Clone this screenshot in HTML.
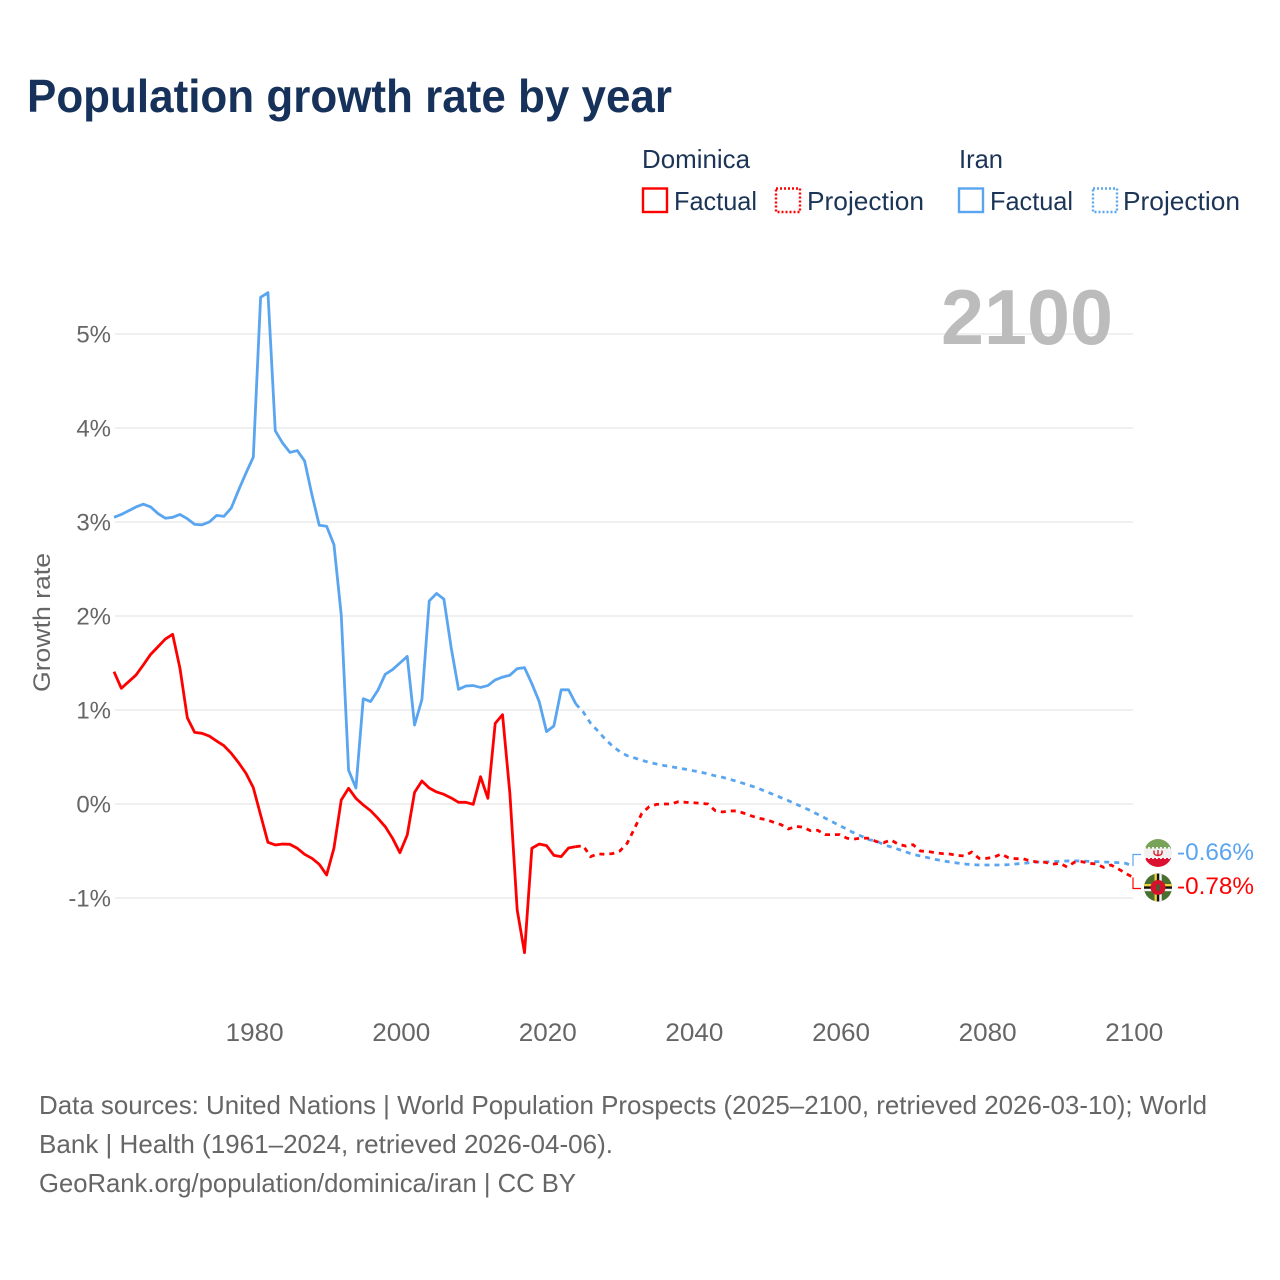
<!DOCTYPE html>
<html lang="en">
<head>
<meta charset="utf-8">
<title>Population growth rate by year</title>
<style>
html,body{margin:0;padding:0;background:#fff;}
svg{display:block;}
text{font-family:"Liberation Sans",sans-serif;}
</style>
</head>
<body>
<svg id="chart" xmlns="http://www.w3.org/2000/svg" width="1280" height="1280" viewBox="0 0 1280 1280">
  <rect x="0" y="0" width="1280" height="1280" fill="#fff"/>
  <text x="27" y="112" font-size="46" font-weight="700" fill="#17325a" textLength="645" lengthAdjust="spacingAndGlyphs">Population growth rate by year</text>

  <g font-size="26" fill="#1c3557">
    <text x="642" y="168" textLength="108" lengthAdjust="spacingAndGlyphs">Dominica</text>
    <text x="959" y="168" textLength="44" lengthAdjust="spacingAndGlyphs">Iran</text>
    <rect x="643" y="188.500" width="24" height="23.500" fill="none" stroke="#ff0000" stroke-width="2.400"/>
    <text x="674" y="210" textLength="83" lengthAdjust="spacingAndGlyphs">Factual</text>
    <rect x="776" y="188.500" width="24" height="23.500" fill="none" stroke="#ff0000" stroke-width="2.400" stroke-dasharray="2 2"/>
    <text x="807" y="210" textLength="117" lengthAdjust="spacingAndGlyphs">Projection</text>
    <rect x="959" y="188.500" width="24" height="23.500" fill="none" stroke="#5aa5ef" stroke-width="2.400"/>
    <text x="990" y="210" textLength="83" lengthAdjust="spacingAndGlyphs">Factual</text>
    <rect x="1093" y="188.500" width="24" height="23.500" fill="none" stroke="#5aa5ef" stroke-width="2.400" stroke-dasharray="2 2"/>
    <text x="1123" y="210" textLength="117" lengthAdjust="spacingAndGlyphs">Projection</text>
  </g>

  <text transform="translate(50,692) rotate(-90)" font-size="24" fill="#666" textLength="139" lengthAdjust="spacingAndGlyphs">Growth rate</text>
  <g id="grid"></g>
  <g id="ylabels"></g>
  <g id="xlabels"></g>

  <text x="941" y="344" font-size="78" font-weight="700" fill="#bcbcbc" textLength="172" lengthAdjust="spacingAndGlyphs">2100</text>

  <g id="series"></g>
  <g id="endmarks"></g>

  <defs>
    <clipPath id="clip-iran"><circle cx="1158" cy="853" r="14"/></clipPath>
    <clipPath id="clip-dominica"><circle cx="1158" cy="887.500" r="14"/></clipPath>
  </defs>
  <g clip-path="url(#clip-iran)">
    <rect x="1144" y="839" width="28" height="9.500" fill="#7aa35a"/>
    <rect x="1144" y="848.500" width="28" height="9.500" fill="#f1f1f1"/>
    <rect x="1144" y="858" width="28" height="9" fill="#dc1030"/>
    <line x1="1144" y1="848" x2="1172" y2="848" stroke="#f1f1f1" stroke-width="2" stroke-dasharray="2 2"/>
    <line x1="1144" y1="858" x2="1172" y2="858" stroke="#f1f1f1" stroke-width="2" stroke-dasharray="2 2"/>
    <path d="M1154 850.500v2.500q0 2 4 2.500q4-.5 4-2.500v-2.500M1158 850v6" fill="none" stroke="#d8202f" stroke-width="1.400"/>
  </g>
  <g clip-path="url(#clip-dominica)">
    <rect x="1144" y="873" width="28" height="29" fill="#4a7030"/>
    <rect x="1154.500" y="873" width="2.400" height="29" fill="#f2d13c"/>
    <rect x="1156.900" y="873" width="2.400" height="29" fill="#111"/>
    <rect x="1159.300" y="873" width="2.400" height="29" fill="#f4f4f4"/>
    <rect x="1144" y="884" width="28" height="2.400" fill="#f2d13c"/>
    <rect x="1144" y="886.400" width="28" height="2.400" fill="#111"/>
    <rect x="1144" y="888.800" width="28" height="2.400" fill="#f4f4f4"/>
    <circle cx="1158" cy="887.500" r="7.500" fill="#d4122c"/>
    <ellipse cx="1158" cy="887.500" rx="1.600" ry="3.500" fill="#2e6a30"/>
  </g>

  <g font-size="26" fill="#666">
    <text x="39" y="1114" textLength="1168" lengthAdjust="spacingAndGlyphs">Data sources: United Nations | World Population Prospects (2025–2100, retrieved 2026-03-10); World</text>
    <text x="39" y="1153" textLength="574" lengthAdjust="spacingAndGlyphs">Bank | Health (1961–2024, retrieved 2026-04-06).</text>
    <text x="39" y="1192" textLength="537" lengthAdjust="spacingAndGlyphs">GeoRank.org/population/dominica/iran | CC BY</text>
  </g>
</svg>
<script>
const firstYear = 1961;
const lastFactualYear = 2024;
const yTicks = [5, 4, 3, 2, 1, 0, -1];
const xTicks = [1980, 2000, 2020, 2040, 2060, 2080, 2100];
const iranValues = [
  3.05,3.08,3.12,3.16,3.19,3.16,3.09,3.04,3.05,3.08,
  3.035,2.975,2.97,3.0,3.07,3.06,3.15,3.34,3.52,3.69,
  5.39,5.44,3.97,3.84,3.74,3.76,3.65,3.29,2.965,2.955,
  2.76,2.01,0.36,0.17,1.12,1.09,1.21,1.38,1.43,1.5,
  1.57,0.84,1.11,2.16,2.24,2.18,1.66,1.22,1.255,1.26,
  1.24,1.26,1.32,1.35,1.37,1.44,1.45,1.28,1.09,0.77,
  0.83,1.215,1.215,1.064,0.98,0.86,0.777,0.69,0.617,0.557,
  0.514,0.49,0.465,0.443,0.425,0.41,0.397,0.383,0.37,0.354,
  0.34,0.32,0.3,0.284,0.263,0.24,0.216,0.19,0.163,0.13,
  0.1,0.067,0.035,0,-0.035,-0.07,-0.11,-0.15,-0.19,-0.23,
  -0.27,-0.31,-0.344,-0.38,-0.394,-0.433,-0.457,-0.482,-0.51,-0.535,
  -0.553,-0.571,-0.589,-0.603,-0.617,-0.628,-0.638,-0.645,-0.649,-0.649,
  -0.649,-0.649,-0.645,-0.638,-0.631,-0.624,-0.617,-0.617,-0.613,-0.61,
  -0.606,-0.606,-0.606,-0.61,-0.613,-0.617,-0.62,-0.624,-0.631,-0.66
];
const dominicaValues = [
  1.408,1.231,1.301,1.372,1.479,1.592,1.673,1.755,1.805,1.443,
  0.918,0.762,0.752,0.723,0.67,0.62,0.539,0.439,0.327,0.174,
  -0.117,-0.408,-0.436,-0.426,-0.429,-0.471,-0.535,-0.578,-0.642,-0.755,
  -0.471,0.043,0.167,0.06,-0.01,-0.071,-0.152,-0.241,-0.365,-0.518,
  -0.33,0.124,0.245,0.17,0.128,0.103,0.064,0.018,0.018,-0.004,
  0.29,0.06,0.858,0.95,0.113,-1.128,-1.582,-0.471,-0.426,-0.443,
  -0.546,-0.56,-0.468,-0.454,-0.443,-0.56,-0.531,-0.535,-0.528,-0.5,
  -0.418,-0.26,-0.1,-0.028,-0.004,0,0,0.025,0.018,0.014,
  0.007,0,-0.07,-0.085,-0.074,-0.074,-0.1,-0.128,-0.152,-0.167,
  -0.195,-0.22,-0.266,-0.238,-0.248,-0.284,-0.28,-0.326,-0.326,-0.326,
  -0.365,-0.372,-0.362,-0.365,-0.4,-0.411,-0.383,-0.429,-0.447,-0.433,
  -0.5,-0.504,-0.518,-0.528,-0.532,-0.546,-0.553,-0.511,-0.578,-0.578,
  -0.567,-0.532,-0.571,-0.582,-0.582,-0.606,-0.617,-0.62,-0.64,-0.63,
  -0.67,-0.62,-0.613,-0.631,-0.638,-0.674,-0.649,-0.691,-0.738,-0.78
];

const NS = 'http://www.w3.org/2000/svg';
const xScale = function (year) { return 114 + (year - 1961) * (1133 - 114) / 139; };
const yScale = function (v) { return 804 - v * 94; };

function make(tag, parent, attrs, content) {
  const el = document.createElementNS(NS, tag);
  Object.keys(attrs).forEach(function (k) { el.setAttribute(k, attrs[k]); });
  if (content !== undefined) el.textContent = content;
  parent.appendChild(el);
  return el;
}

const grid = document.getElementById('grid');
const ylabels = document.getElementById('ylabels');
yTicks.forEach(function (t) {
  const line = make('line', grid, { x1: 115, x2: 1133, y1: yScale(t), y2: yScale(t), stroke: '#e8e8e8', 'stroke-width': 1.2 });
  
  
  const label = make('text', ylabels, { x: 111, y: yScale(t) + 8.5, 'text-anchor': 'end', 'font-size': 24, fill: '#666' }, t + '%');
  
  
});

const xlabels = document.getElementById('xlabels');
xTicks.forEach(function (t) {
  const label = make('text', xlabels, { x: xScale(t) - 28 + 0.3, y: 1041, 'font-size': 25, fill: '#666', textLength: 58, lengthAdjust: 'spacingAndGlyphs' }, String(t));
  
  
});

function pathFor(values, from, to) {
  let d = '';
  values.forEach(function (v, i) {
    const yr = firstYear + i;
    if (yr < from || yr > to) return;
    d += (d ? 'L' : 'M') + xScale(yr).toFixed(2) + ' ' + yScale(v).toFixed(2);
  });
  return d;
}

const series = document.getElementById('series');
const iranFactual = make('path', series, { d: pathFor(iranValues, 1961, lastFactualYear), fill: 'none', stroke: '#5aa5ef', 'stroke-width': 2.8, 'stroke-linejoin': 'round' });


const iranProjection = make('path', series, { d: pathFor(iranValues, lastFactualYear, 2100), fill: 'none', stroke: '#5aa5ef', 'stroke-width': 2.8, 'stroke-dasharray': '5 5' });


const domFactual = make('path', series, { d: pathFor(dominicaValues, 1961, lastFactualYear), fill: 'none', stroke: '#ff0000', 'stroke-width': 2.8, 'stroke-linejoin': 'round' });


const domProjection = make('path', series, { d: pathFor(dominicaValues, lastFactualYear, 2100), fill: 'none', stroke: '#ff0000', 'stroke-width': 2.8, 'stroke-dasharray': '5 5' });



const endmarks = document.getElementById('endmarks');
const iranLast = iranValues[iranValues.length - 1];
const domLast = dominicaValues[dominicaValues.length - 1];
const iranConn = make('path', endmarks, { d: 'M' + xScale(2100) + ' ' + yScale(iranLast) + 'V854.500H1141', fill: 'none', stroke: '#5aa5ef', 'stroke-width': 1.2 });


const domConn = make('path', endmarks, { d: 'M' + xScale(2100) + ' ' + yScale(domLast) + 'V888.500H1141', fill: 'none', stroke: '#ff0000', 'stroke-width': 1.2 });


const iranEnd = make('text', endmarks, { x: 1177, y: 860, 'font-size': 24, fill: '#5aa5ef', textLength: 77, lengthAdjust: 'spacingAndGlyphs' }, iranLast.toFixed(2) + '%');


const domEnd = make('text', endmarks, { x: 1177, y: 894, 'font-size': 24, fill: '#ff0000', textLength: 77, lengthAdjust: 'spacingAndGlyphs' }, domLast.toFixed(2) + '%');


</script>
</body>
</html>
